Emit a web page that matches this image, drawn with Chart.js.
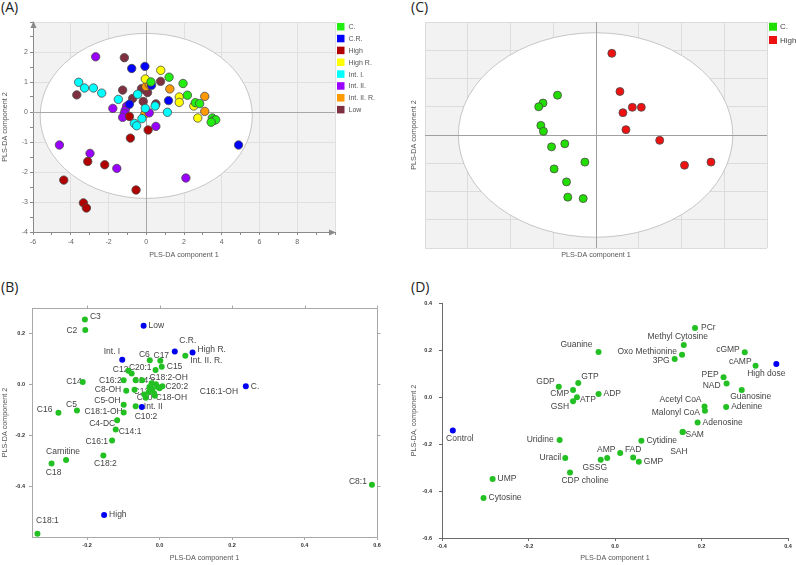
<!DOCTYPE html>
<html>
<head>
<meta charset="utf-8">
<script src="https://cdn.jsdelivr.net/npm/chart.js@4.4.1/dist/chart.umd.min.js"></script>
<style>
  body { margin: 0; background: #fff; width: 796px; height: 565px; position: relative; overflow: hidden; }
  canvas.panel { position: absolute; }
  .tag { position: absolute; font: 14px/14px 'Open Sans', sans-serif; color: #222; }
</style>
</head>
<body>
<div class="tag" style="left:1px;top:0px">(A)</div>
<div class="tag" style="left:411px;top:0px">(C)</div>
<div class="tag" style="left:1px;top:280px">(B)</div>
<div class="tag" style="left:411px;top:280px">(D)</div>
<canvas id="chartA" class="panel" style="left:0;top:0" width="400" height="270"></canvas>
<canvas id="chartC" class="panel" style="left:400px;top:0" width="396" height="270"></canvas>
<canvas id="chartB" class="panel" style="left:0;top:280px" width="400" height="285"></canvas>
<canvas id="chartD" class="panel" style="left:400px;top:280px" width="396" height="285"></canvas>
<script>
const FONT = "'Liberation Sans', Arial, sans-serif";

// ── (A) scores plot, 8 groups ────────────────────────────────────────────────
const aGroups = ['C.', 'C.R.', 'High', 'High R.', 'Int. I.', 'Int. II.', 'Int. II. R.', 'Low'];
const aC = [[0.25, 1.0], [1.21, 1.16], [1.95, 0.95], [2.18, 0.56], [2.6, 0.31], [2.83, 0.28], [3.5, -0.2], [3.58, -0.28], [3.68, -0.26], [3.44, -0.34]];
const aCR = [[-0.77, 1.45], [-0.07, 1.52], [0.28, 0.89], [-0.89, 0.26], [1.18, 0.38], [4.89, -1.1]];
const aHigh = [[-0.89, -0.15], [-0.84, -0.87], [0.1, -0.6], [-0.54, -2.6], [-3.1, -1.65], [-2.2, -1.76], [-4.37, -2.27], [-3.33, -3.03], [-3.17, -3.2]];
const aHighR = [[-0.05, 1.1], [0.77, 1.39], [1.75, 0.5], [1.75, 0.32], [2.52, 0.2], [2.73, -0.2]];
const aIntI = [[-3.58, 0.99], [-3.27, 0.8], [-2.8, 0.8], [-2.36, 0.63], [-1.48, 0.42], [-0.46, 0.59], [-0.05, 0.12], [0.47, 0.2], [1.12, -0.01], [-0.23, -0.22], [-0.63, -0.38], [-0.51, -0.46]];
const aIntII = [[-2.68, 1.84], [-1.77, 0.12], [-1.04, 0.19], [-1.12, 0.05], [-1.16, -0.05], [-1.25, -0.18], [0.16, -0.03], [0.51, -0.48], [-4.6, -1.1], [-2.98, -1.38], [-1.56, -1.88], [2.1, -2.2]];
const aIntIIR = [[-0.02, 0.85], [0.16, 0.92], [1.25, 0.77], [3.1, 0.52], [3.1, 0.02], [-0.07, -0.06]];
const aLow = [[-1.16, 1.81], [-3.68, 0.57], [-1.25, 0.73], [-0.72, 0.45], [-0.25, 0.78], [-0.1, 0.75], [0.07, 0.65], [-0.16, 0.35], [0.51, 0.27], [0.76, 1.02]];
const aColors = ['#22ee11', '#0000ff', '#b00000', '#ffff00', '#00ffff', '#9900ff', '#ff9900', '#7f3040'];
const aEllipse = { cx: 0, cy: -0.13, rx: 5.62, ry: 2.75 };

// ── (C) scores plot, 2 groups ────────────────────────────────────────────────
const cGroups = ['C.', 'High'];
const cC = [[-0.9, 1.41], [-1.24, 1.13], [-1.34, 1.0], [-1.29, 0.34], [-1.23, 0.13], [-1.04, -0.42], [-0.73, -0.31], [-0.26, -0.96], [-0.98, -1.2], [-0.69, -1.66], [-0.66, -2.2], [-0.3, -2.25]];
const cHigh = [[0.37, 2.89], [0.56, 1.54], [0.85, 0.98], [1.06, 0.98], [0.63, 0.79], [0.7, 0.19], [1.49, -0.19], [2.07, -1.07], [2.69, -0.96]];
const cColors = ['#22dd00', '#ee1111'];
const cEllipse = { cx: -0.01, cy: 0, rx: 3.21, ry: 3.62 };

// ── (B) loadings, acylcarnitines ─────────────────────────────────────────────
const bGroupNames = ['Low', 'Int. I', 'C.R.', 'High R.', 'C.', 'Int. II', 'High'];
const bGroupX = [-0.044, -0.103, 0.042, 0.091, 0.238, -0.049, -0.153];
const bGroupY = [0.23, 0.097, 0.129, 0.125, -0.008, -0.089, -0.514];
const bVarNames = ['C3', 'C2', 'C14', 'C16', 'C5', 'C6', 'C17', 'C15', 'C20:1', 'C12', '', 'C16:2', 'C14:2', '', 'C18:2-OH',
  'C8-OH', 'C12:1', 'C20:2', 'C16:1-OH', 'C18-OH', 'C20', '', '', '', '', '', '', '',
  'C5-OH', 'C18:1-OH', 'C10:2', 'C4-DC', 'C14:1', 'C16:1', 'C18:2', 'Carnitine', 'C18', 'C18:1', 'C8:1', 'Int. II. R.'];
const bVarX = [-0.206, -0.205, -0.212, -0.279, -0.228, -0.027, 0.002, 0.006, -0.011, -0.086, -0.077, -0.099, -0.066, -0.048, -0.022,
  -0.092, -0.069, 0.008, -0.005, -0.013, -0.038, -0.03, -0.02, -0.01, 0.0, -0.028, -0.042, -0.015,
  -0.099, -0.099, -0.066, -0.117, -0.121, -0.131, -0.155, -0.258, -0.298, -0.337, 0.586, 0.071];
const bVarY = [0.255, 0.214, 0.009, -0.112, -0.103, 0.095, 0.093, 0.069, 0.056, 0.053, 0.043, 0.016, 0.016, 0.016, 0.004,
  -0.025, -0.021, -0.008, -0.01, -0.045, -0.053, -0.03, -0.018, 0.0, -0.015, -0.01, -0.04, -0.035,
  -0.08, -0.111, -0.086, -0.141, -0.178, -0.221, -0.28, -0.297, -0.311, -0.587, -0.395, 0.112];

// ── (D) loadings, metabolites ────────────────────────────────────────────────
const dGroupNames = ['Control', 'High dose'];
const dGroupX = [-0.375, 0.373];
const dGroupY = [-0.143, 0.14];
const dVarNames = ['PCr', 'Methyl Cytosine', 'Oxo Methionine', '3PG', 'Guanine', 'cGMP', 'cAMP', 'PEP', 'NAD', 'Guanosine',
  'GTP', 'GDP', 'CMP', 'ATP', 'GSH', 'ADP', 'Acetyl CoA', 'Malonyl CoA', 'Adenine', 'Adenosine', 'SAM', 'SAH',
  'Cytidine', 'Uridine', 'Uracil', 'AMP', 'FAD', '', 'GSSG', 'GMP', 'CDP choline', 'UMP', 'Cytosine'];
const dVarX = [0.185, 0.159, 0.155, 0.138, -0.038, 0.3, 0.325, 0.251, 0.258, 0.293,
  -0.085, -0.13, -0.097, -0.088, -0.097, -0.038, 0.207, 0.208, 0.257, 0.191, 0.156, 0.157,
  0.061, -0.128, -0.115, -0.018, 0.042, 0.012, -0.033, 0.055, -0.104, -0.283, -0.304];
const dVarY = [0.294, 0.221, 0.18, 0.162, 0.191, 0.19, 0.133, 0.084, 0.057, 0.03,
  0.06, 0.044, 0.03, -0.001, -0.018, 0.013, -0.04, -0.058, -0.043, -0.108, -0.149, -0.149,
  -0.186, -0.183, -0.26, -0.26, -0.257, -0.238, -0.267, -0.275, -0.321, -0.349, -0.43];

// label placement: [dx, dy, textAlign] relative to the point
const bPlace = {
  'C3': [5, -3, 'left'], 'C2': [-8, 1, 'right'], 'Low': [5, 0, 'left'], 'C.R.': [13, -11, 'center'],
  'High R.': [5, -3, 'left'], 'Int. II. R.': [5, 5, 'left'], 'Int. I': [-2, -8, 'right'], 'C6': [0, -6, 'right'],
  'C17': [1, -5, 'center'], 'C15': [5, 0, 'left'], 'C20:1': [-4, -2, 'right'], 'C12': [0, -1, 'right'],
  'C16:2': [-2, 0, 'right'], 'C14:2': [-3, 0, 'left'], 'C18:2-OH': [-2, -6, 'left'], 'C8-OH': [-5, -1, 'right'],
  'C12:1': [-1, 2, 'left'], 'C20:2': [3, 0, 'left'], 'C16:1-OH': [42, 5, 'left'], 'C18-OH': [1, 2, 'left'],
  'C20': [-9, 0, 'left'], 'C5-OH': [-3, -4, 'right'], 'C18:1-OH': [-1, -1, 'right'], 'Int. II': [2, 0, 'left'],
  'C10:2': [-1, 10, 'left'], 'C5': [0, -6, 'right'], 'C16': [-6, -3, 'right'], 'C14': [-1, 0, 'right'],
  'C4-DC': [-2, 3, 'right'], 'C14:1': [3, 2, 'left'], 'C16:1': [-4, 1, 'right'], 'C18:2': [2, 8, 'center'],
  'Carnitine': [-3, -8, 'center'], 'C18': [2, 9, 'center'], 'C18:1': [10, -13, 'center'], 'High': [5, 0, 'left'],
  'C.': [5, 0, 'left'], 'C8:1': [-5, -3, 'right']
};
const dPlace = {
  'PCr': [6, 0, 'left'], 'Methyl Cytosine': [-6, -8, 'center'], 'Oxo Methionine': [-5, -3, 'right'], '3PG': [-5, 2, 'right'],
  'Guanine': [-6, -7, 'right'], 'cGMP': [-5, -3, 'right'], 'cAMP': [-4, -4, 'right'], 'High dose': [-10, 10, 'center'],
  'Control': [7, 8, 'center'], 'PEP': [-5, -3, 'right'], 'NAD': [-6, 2, 'right'], 'Guanosine': [9, 7, 'center'],
  'GTP': [3, -6, 'left'], 'GDP': [-4, -5, 'right'], 'CMP': [-4, 4, 'right'], 'ATP': [3, 2, 'left'],
  'GSH': [-4, 5, 'right'], 'ADP': [5, 0, 'left'], 'Acetyl CoA': [-3, -7, 'right'], 'Malonyl CoA': [-5, 2, 'right'],
  'Adenine': [5, 0, 'left'], 'Adenosine': [5, 0, 'left'], 'SAM': [3, 3, 'left'], 'SAH': [-4, 20, 'center'],
  'Cytidine': [5, 0, 'left'], 'Uridine': [-6, 0, 'right'], 'Uracil': [-4, 0, 'right'], 'AMP': [-1, -8, 'center'],
  'FAD': [0, -8, 'center'], 'GSSG': [-6, 8, 'center'], 'GMP': [5, 0, 'left'], 'CDP choline': [15, 8, 'center'],
  'UMP': [5, 0, 'left'], 'Cytosine': [5, 0, 'left']
};

function pairsToPts(pairs) {
  return pairs.map(([x, y]) => ({ x, y }));
}

function zipPts(xs, ys) {
  return xs.map((x, i) => ({ x, y: ys[i] }));
}

// ── plugins ──────────────────────────────────────────────────────────────────

const panelBg = {
  id: 'panelBg',
  beforeDraw(chart, args, o) {
    if (!o.color) return;
    const { ctx, chartArea: a } = chart;
    ctx.save();
    ctx.fillStyle = o.color;
    ctx.fillRect(a.left, a.top, a.width, a.height);
    ctx.restore();
  }
};

const ellipseZero = {
  id: 'ellipseZero',
  beforeDatasetsDraw(chart, args, o) {
    if (!o.shape) return;
    const { ctx, chartArea: a, scales: { x, y } } = chart;
    const e = o.shape;
    const cx = x.getPixelForValue(e.cx);
    const cy = y.getPixelForValue(e.cy);
    const rx = Math.abs(x.getPixelForValue(e.cx + e.rx) - cx);
    const ry = Math.abs(y.getPixelForValue(e.cy + e.ry) - cy);
    ctx.save();
    ctx.beginPath();
    ctx.ellipse(cx, cy, rx, ry, 0, 0, Math.PI * 2);
    ctx.fillStyle = '#ffffff';
    ctx.fill();
    ctx.strokeStyle = '#c6c6c6';
    ctx.lineWidth = 1;
    ctx.stroke();
    const x0 = Math.round(x.getPixelForValue(0)) + 0.5;
    const y0 = Math.round(y.getPixelForValue(0)) + 0.5;
    ctx.strokeStyle = o.zero;
    ctx.beginPath();
    ctx.moveTo(x0, a.top);
    ctx.lineTo(x0, a.bottom);
    ctx.moveTo(a.left, y0);
    ctx.lineTo(a.right, y0);
    ctx.stroke();
    ctx.restore();
  }
};

const axisArrows = {
  id: 'axisArrows',
  afterDraw(chart, args, o) {
    if (!o.color) return;
    const { ctx, chartArea: a } = chart;
    const l = Math.round(a.left) + 0.5;
    const b = Math.round(a.bottom) + 0.5;
    ctx.save();
    ctx.fillStyle = o.color;
    ctx.beginPath();
    ctx.moveTo(l, a.top - 1);
    ctx.lineTo(l - 3, a.top + 6);
    ctx.lineTo(l + 3, a.top + 6);
    ctx.closePath();
    ctx.moveTo(a.right + 1, b);
    ctx.lineTo(a.right - 6, b - 3);
    ctx.lineTo(a.right - 6, b + 3);
    ctx.closePath();
    ctx.fill();
    ctx.restore();
  }
};

const frameBox = {
  id: 'frameBox',
  afterDraw(chart, args, o) {
    if (!o.color) return;
    const { ctx, chartArea: a, scales: { x, y } } = chart;
    const t = Math.round(a.top) + 0.5;
    const r = Math.round(a.right) + 0.5;
    ctx.save();
    ctx.strokeStyle = o.color;
    ctx.lineWidth = 1;
    ctx.beginPath();
    ctx.moveTo(a.left, t);
    ctx.lineTo(r, t);
    ctx.lineTo(r, a.bottom);
    x.ticks.forEach(tk => {
      const px = Math.round(x.getPixelForValue(tk.value)) + 0.5;
      ctx.moveTo(px, t);
      ctx.lineTo(px, t - 3);
    });
    y.ticks.forEach(tk => {
      const py = Math.round(y.getPixelForValue(tk.value)) + 0.5;
      ctx.moveTo(r, py);
      ctx.lineTo(r + 3, py);
    });
    ctx.stroke();
    ctx.restore();
  }
};

const sideLegend = {
  id: 'sideLegend',
  afterDraw(chart, args, o) {
    if (o.x === undefined) return;
    const ctx = chart.ctx;
    ctx.save();
    ctx.font = o.font;
    ctx.textBaseline = 'middle';
    ctx.textAlign = 'left';
    chart.data.datasets.forEach((ds, i) => {
      const cy = o.y + i * o.gap;
      ctx.fillStyle = ds.backgroundColor;
      ctx.fillRect(o.x, cy - o.box / 2, o.box, o.box);
      ctx.fillStyle = o.color;
      ctx.fillText(ds.label, o.x + o.box + o.pad, cy + 0.5);
    });
    ctx.restore();
  }
};

const pointNames = {
  id: 'pointNames',
  beforeDatasetsDraw(chart, args, o) {
    if (!o.place) return;
    const ctx = chart.ctx;
    ctx.save();
    ctx.font = o.font;
    ctx.fillStyle = o.color;
    ctx.textBaseline = 'middle';
    chart.data.datasets.forEach((ds, di) => {
      chart.getDatasetMeta(di).data.forEach((pt, i) => {
        const name = ds.names[i];
        if (!name) return;
        const [dx, dy, align] = o.place[name] || [4, 0, 'left'];
        ctx.textAlign = align;
        ctx.fillText(name, pt.x + dx, pt.y + dy);
      });
    });
    ctx.restore();
  }
};

// ── shared bits ──────────────────────────────────────────────────────────────

function axisTitle(text, padding) {
  return { display: true, text, color: '#555', font: { size: 7.2, family: FONT }, padding };
}

function baseOptions(padding, extraPlugins) {
  return {
    responsive: false,
    animation: false,
    events: [],
    layout: { padding },
    plugins: Object.assign({ legend: { display: false }, tooltip: { enabled: false } }, extraPlugins)
  };
}

// ── (A) ──────────────────────────────────────────────────────────────────────

const aSeries = [aC, aCR, aHigh, aHighR, aIntI, aIntII, aIntIIR, aLow];
const optsA = baseOptions({ top: 22, right: 65, left: 0, bottom: 0 }, {
  panelBg: { color: '#f2f2f2' },
  ellipseZero: { shape: aEllipse, zero: '#a8a8a8' },
  axisArrows: { color: '#8a8a8a' },
  sideLegend: { x: 337, y: 26.7, gap: 11.85, box: 7.5, pad: 4, font: `7px ${FONT}`, color: '#555' }
});
optsA.scales = {
  x: {
    type: 'linear', min: -6, max: 10,
    afterFit: s => { s.height = 38; },
    ticks: { stepSize: 1, padding: 3, autoSkip: false, maxRotation: 0, color: '#666', font: { size: 7, family: FONT },
      callback: v => (v % 2 === 0 && v < 10) ? String(v) : '' },
    grid: { color: c => (c.tick && c.tick.value % 2 === 0) ? '#e0e0e0' : 'rgba(0,0,0,0)', tickColor: '#8a8a8a', tickLength: 3 },
    border: { color: '#8a8a8a' },
    title: axisTitle('PLS-DA component 1', { top: 0, bottom: 11 })
  },
  y: {
    type: 'linear', min: -4, max: 3,
    afterFit: s => { s.width = 33; },
    ticks: { stepSize: 0.5, padding: 2, autoSkip: false, color: '#666', font: { size: 7, family: FONT },
      callback: v => (Number.isInteger(v) && v < 3) ? String(v) : '' },
    grid: { color: c => (c.tick && Number.isInteger(c.tick.value)) ? '#e0e0e0' : 'rgba(0,0,0,0)', tickColor: '#8a8a8a', tickLength: 3 },
    border: { color: '#8a8a8a' },
    title: axisTitle('PLS-DA component 2', { top: 1, bottom: 0 })
  }
};
new Chart(document.getElementById('chartA'), {
  type: 'scatter',
  data: {
    datasets: aSeries.map((pairs, i) => ({
      label: aGroups[i],
      data: pairsToPts(pairs),
      backgroundColor: aColors[i],
      borderColor: '#4a4a4a',
      borderWidth: 0.8,
      pointRadius: 4.2
    }))
  },
  options: optsA,
  plugins: [panelBg, ellipseZero, axisArrows, sideLegend]
});

// ── (C) ──────────────────────────────────────────────────────────────────────

const optsC = baseOptions({ top: 22, right: 29, left: 0, bottom: 0 }, {
  panelBg: { color: '#f2f2f2' },
  ellipseZero: { shape: cEllipse, zero: '#a0a0a0' },
  sideLegend: { x: 369, y: 26.7, gap: 13.3, box: 8, pad: 3, font: `8px ${FONT}`, color: '#444' }
});
optsC.scales = {
  x: {
    type: 'linear', min: -4, max: 4,
    afterFit: s => { s.height = 22; },
    ticks: { stepSize: 1, display: false },
    grid: { color: '#dcdcdc', drawTicks: false },
    border: { display: false },
    title: axisTitle('PLS-DA component 1', { top: 0, bottom: 11 })
  },
  y: {
    type: 'linear', min: -4, max: 4,
    afterFit: s => { s.width = 25; },
    ticks: { stepSize: 1, display: false },
    grid: { color: '#dcdcdc', drawTicks: false },
    border: { display: false },
    title: axisTitle('PLS-DA component 2', { top: 10, bottom: 0 })
  }
};
new Chart(document.getElementById('chartC'), {
  type: 'scatter',
  data: {
    datasets: [cC, cHigh].map((pairs, i) => ({
      label: cGroups[i],
      data: pairsToPts(pairs),
      backgroundColor: cColors[i],
      borderColor: '#4a4a4a',
      borderWidth: 0.8,
      pointRadius: 4
    }))
  },
  options: optsC,
  plugins: [panelBg, ellipseZero, sideLegend]
});

// ── (B) and (D): loadings with labels ────────────────────────────────────────

function loadingScales(xr, yr, xh, yw, gridColor, yTitle, yTitlePad, yTickPad) {
  const tickFont = { size: 5.5, family: FONT, weight: 'bold' };
  return {
    x: {
      type: 'linear', min: xr[0], max: xr[1],
      afterFit: s => { s.height = xh; },
      ticks: { stepSize: 0.2, includeBounds: false, padding: 2, autoSkip: false, maxRotation: 0, color: '#333', font: tickFont,
        callback: v => Number(v).toFixed(1) },
      grid: { drawOnChartArea: false, tickColor: gridColor, tickLength: 3 },
      border: { color: gridColor },
      title: axisTitle('PLS-DA component 1', { top: 0, bottom: 3 })
    },
    y: {
      type: 'linear', min: yr[0], max: yr[1],
      afterFit: s => { s.width = yw; },
      ticks: { stepSize: 0.2, includeBounds: false, padding: yTickPad, autoSkip: false, color: '#333', font: tickFont,
        callback: v => Number(v).toFixed(1) },
      grid: { drawOnChartArea: false, tickColor: gridColor, tickLength: 3 },
      border: { color: gridColor },
      title: axisTitle(yTitle, { top: yTitlePad, bottom: 0 })
    }
  };
}

const optsB = baseOptions({ top: 28, right: 23, left: 0, bottom: 0 }, {
  frameBox: { color: '#a8a8a8' },
  pointNames: { place: bPlace, font: `8.5px ${FONT}`, color: '#444' }
});
optsB.scales = loadingScales([-0.352, 0.6], [-0.6, 0.3], 28, 32, '#a8a8a8', 'PLS-DA component 2', 1, 4);
new Chart(document.getElementById('chartB'), {
  type: 'scatter',
  data: {
    datasets: [
      { label: 'variables', names: bVarNames, data: zipPts(bVarX, bVarY), backgroundColor: '#22c022', borderWidth: 0, pointRadius: 3 },
      { label: 'groups', names: bGroupNames, data: zipPts(bGroupX, bGroupY), backgroundColor: '#0000f0', borderWidth: 0, pointRadius: 3 }
    ]
  },
  options: optsB,
  plugins: [frameBox, pointNames]
});

const optsD = baseOptions({ top: 23, right: 8, left: 0, bottom: 0 }, {
  pointNames: { place: dPlace, font: `8.5px ${FONT}`, color: '#444' }
});
optsD.scales = loadingScales([-0.4, 0.4], [-0.6, 0.4], 27, 42, '#6a6a6a', 'PLS-DA, component 2', 10, 7);
new Chart(document.getElementById('chartD'), {
  type: 'scatter',
  data: {
    datasets: [
      { label: 'variables', names: dVarNames, data: zipPts(dVarX, dVarY), backgroundColor: '#22c022', borderWidth: 0, pointRadius: 3 },
      { label: 'groups', names: dGroupNames, data: zipPts(dGroupX, dGroupY), backgroundColor: '#0000f0', borderWidth: 0, pointRadius: 3 }
    ]
  },
  options: optsD,
  plugins: [pointNames]
});
</script>
</body>
</html>
